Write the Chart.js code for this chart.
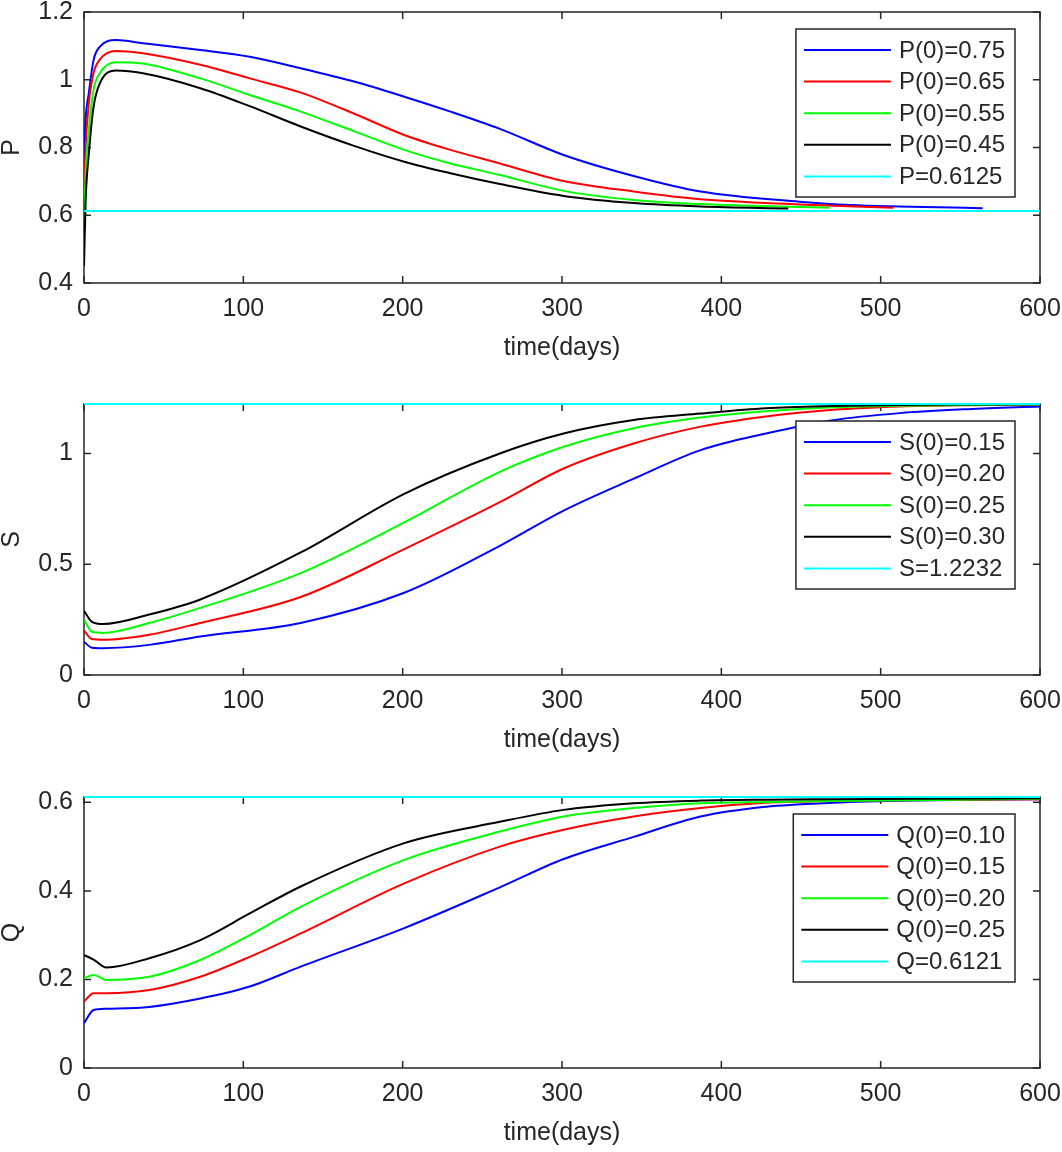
<!DOCTYPE html>
<html><head><meta charset="utf-8">
<script src="https://cdn.jsdelivr.net/npm/chart.js@4/dist/chart.umd.min.js"></script>
<style>
html,body{margin:0;padding:0;background:#fff;width:1062px;height:1152px;overflow:hidden;position:relative}
canvas{position:absolute;left:0}
</style></head><body>
<canvas id="cP" width="1075" height="375" style="top:-12px;width:1075px;height:375px"></canvas>
<canvas id="cS" width="1075" height="375" style="top:380px;width:1075px;height:375px"></canvas>
<canvas id="cQ" width="1075" height="375" style="top:773px;width:1075px;height:375px"></canvas>
<script>
// ---------- data ----------
const seriesColors = ['#0000ff', '#ff0000', '#00ff00', '#000000', '#00ffff'];
const xTitle = 'time(days)';

// Panel P
const pLabels = ['P(0)=0.75', 'P(0)=0.65', 'P(0)=0.55', 'P(0)=0.45', 'P=0.6125'];
const pTime75 = [0, 1, 3, 6, 10, 20, 37, 73, 104, 136, 170, 201, 230, 261, 301, 345, 387, 449, 481, 564];
const p75 = [0.75, 0.88, 0.96, 1.058, 1.098, 1.117, 1.108, 1.088, 1.068, 1.034, 0.994, 0.950, 0.906, 0.855, 0.778, 0.716, 0.670, 0.640, 0.630, 0.621];
const pTime65 = [0, 1, 3, 6, 10, 20, 37, 73, 104, 136, 170, 201, 230, 261, 301, 345, 387, 449, 508];
const p65 = [0.65, 0.80, 0.93, 1.02, 1.06, 1.085, 1.078, 1.044, 1.004, 0.962, 0.899, 0.837, 0.793, 0.753, 0.701, 0.670, 0.647, 0.632, 0.622];
const pTime55 = [0, 1, 3, 6, 10, 20, 37, 73, 104, 136, 170, 201, 230, 261, 301, 345, 387, 468];
const p55 = [0.55, 0.72, 0.85, 0.97, 1.02, 1.052, 1.048, 1.004, 0.955, 0.906, 0.847, 0.793, 0.753, 0.719, 0.672, 0.645, 0.633, 0.622];
const pTime45 = [0, 1, 3, 6, 10, 20, 37, 73, 104, 136, 170, 201, 230, 261, 301, 345, 387, 442];
const p45 = [0.45, 0.64, 0.78, 0.92, 0.99, 1.027, 1.019, 0.975, 0.922, 0.862, 0.804, 0.758, 0.724, 0.692, 0.657, 0.636, 0.626, 0.620];
const pEqTime = [0, 600];
const pEq = [0.6125, 0.6125];

// Panel S
const sLabels = ['S(0)=0.15', 'S(0)=0.20', 'S(0)=0.25', 'S(0)=0.30', 'S=1.2232'];
const sTime = [0, 5, 12, 41, 73, 136, 201, 261, 301, 345, 387, 428, 470, 512, 555, 600];
const s15 = [0.15, 0.123, 0.121, 0.136, 0.174, 0.235, 0.371, 0.583, 0.742, 0.886, 1.015, 1.09, 1.15, 1.182, 1.200, 1.212];
const s20 = [0.20, 0.162, 0.159, 0.182, 0.235, 0.352, 0.568, 0.78, 0.932, 1.045, 1.121, 1.167, 1.197, 1.212, 1.218, 1.221];
const s25 = [0.25, 0.195, 0.19, 0.235, 0.303, 0.460, 0.689, 0.917, 1.03, 1.114, 1.162, 1.19, 1.208, 1.215, 1.219, 1.221];
const s30 = [0.29, 0.24, 0.23, 0.273, 0.341, 0.553, 0.818, 1.0, 1.09, 1.151, 1.18, 1.204, 1.214, 1.219, 1.221, 1.222];
const sEqTime = [0, 600];
const sEq = [1.2232, 1.2232];

// Panel Q
const qLabels = ['Q(0)=0.10', 'Q(0)=0.15', 'Q(0)=0.20', 'Q(0)=0.25', 'Q=0.6121'];
const qTime = [0, 6, 14, 41, 73, 104, 136, 201, 261, 301, 345, 387, 428, 470, 520, 600];
const q10 = [0.101, 0.131, 0.134, 0.138, 0.157, 0.184, 0.229, 0.316, 0.408, 0.472, 0.522, 0.568, 0.59, 0.599, 0.604, 0.607];
const q15 = [0.15, 0.169, 0.169, 0.176, 0.206, 0.251, 0.304, 0.417, 0.50, 0.538, 0.568, 0.587, 0.599, 0.603, 0.605, 0.607];
const q20 = [0.203, 0.21, 0.199, 0.206, 0.244, 0.30, 0.364, 0.47, 0.534, 0.568, 0.587, 0.598, 0.601, 0.603, 0.605, 0.608];
const q25 = [0.255, 0.245, 0.227, 0.248, 0.289, 0.349, 0.41, 0.508, 0.556, 0.583, 0.598, 0.604, 0.606, 0.607, 0.608, 0.609];
const qEqTime = [0, 600];
const qEq = [0.6121, 0.6121];

// ---------- rendering ----------
const FONT = '"Liberation Sans", Arial, Helvetica, sans-serif';
const TXT = '#262626';
Chart.defaults.font.family = FONT;
Chart.defaults.color = TXT;

const framePlugin = {
  id: 'frame',
  beforeDatasetsDraw(chart) {
    const {ctx, chartArea: a, scales: {x, y}} = chart;
    ctx.save();
    ctx.strokeStyle = TXT;
    ctx.lineWidth = 1.5;
    ctx.beginPath();
    x.ticks.forEach(t => {
      const px = x.getPixelForValue(t.value);
      ctx.moveTo(px, a.bottom); ctx.lineTo(px, a.bottom - 7);
      ctx.moveTo(px, a.top); ctx.lineTo(px, a.top + 7);
    });
    y.ticks.forEach(t => {
      const py = y.getPixelForValue(t.value);
      ctx.moveTo(a.left, py); ctx.lineTo(a.left + 7, py);
      ctx.moveTo(a.right, py); ctx.lineTo(a.right - 7, py);
    });
    ctx.stroke();
    ctx.strokeRect(a.left, a.top, a.right - a.left, a.bottom - a.top);
    ctx.restore();
  }
};

const legendPlugin = {
  id: 'boxLegend',
  afterDraw(chart) {
    const {ctx, chartArea: a} = chart;
    const ds = chart.data.datasets;
    ctx.save();
    ctx.font = '24px ' + FONT;
    const tw = Math.max(...ds.map(d => ctx.measureText(d.label).width));
    const w = 8 + 87 + 8 + tw + 10;
    const h = 168;
    const right = a.right - 25;
    const left = right - w;
    const top = a.top + 17;
    ctx.fillStyle = '#fff';
    ctx.fillRect(left, top, w, h);
    ctx.strokeStyle = TXT;
    ctx.lineWidth = 1.5;
    ctx.strokeRect(left, top, w, h);
    ds.forEach((d, i) => {
      const cy = top + 21 + i * 31.6;
      ctx.strokeStyle = d.borderColor;
      ctx.lineWidth = 2;
      ctx.beginPath();
      ctx.moveTo(left + 8, cy);
      ctx.lineTo(left + 95, cy);
      ctx.stroke();
      ctx.fillStyle = TXT;
      ctx.textBaseline = 'middle';
      ctx.textAlign = 'left';
      ctx.fillText(d.label, left + 103, cy + 1);
    });
    ctx.restore();
  }
};

function pts(t, v) { return t.map((tt, i) => ({x: tt, y: v[i]})); }

function makeChart(id, labels, series, yMin, yMax, yStep, yTitle) {
  const datasets = series.map((s, i) => ({
    label: labels[i],
    data: pts(s[0], s[1]),
    borderColor: seriesColors[i],
    backgroundColor: seriesColors[i],
    borderWidth: 2,
    pointRadius: 0,
    fill: false,
    cubicInterpolationMode: 'monotone',
    clip: i === 4 ? false : undefined,
    order: 4 - i
  }));
  return new Chart(document.getElementById(id), {
    type: 'line',
    data: {datasets},
    options: {
      responsive: false,
      animation: false,
      events: [],
      layout: {padding: {top: 24, right: 35, bottom: 0, left: 0}},
      plugins: {legend: {display: false}, tooltip: {enabled: false}},
      scales: {
        x: {
          type: 'linear', min: 0, max: 600,
          grid: {display: false, drawTicks: false},
          border: {display: false},
          ticks: {stepSize: 100, padding: 14, color: TXT, font: {size: 25, lineHeight: 1}, maxRotation: 0},
          title: {display: true, text: xTitle, color: TXT, font: {size: 25, lineHeight: 1}, padding: {top: 0, bottom: 2}},
          afterFit(s) { s.height = 80; }
        },
        y: {
          type: 'linear', min: yMin, max: yMax,
          grid: {display: false, drawTicks: false},
          border: {display: false},
          ticks: {stepSize: yStep, includeBounds: false, padding: 11, color: TXT, font: {size: 25, lineHeight: 1},
            callback: v => String(Math.round(v * 1000) / 1000)},
          title: {display: true, text: yTitle, color: TXT, font: {size: 25, lineHeight: 1}, padding: 0},
          afterFit(s) { s.width = 84; }
        }
      }
    },
    plugins: [framePlugin, legendPlugin]
  });
}

makeChart('cP', pLabels, [[pTime75, p75], [pTime65, p65], [pTime55, p55], [pTime45, p45], [pEqTime, pEq]], 0.4, 1.2, 0.2, 'P');
makeChart('cS', sLabels, [[sTime, s15], [sTime, s20], [sTime, s25], [sTime, s30], [sEqTime, sEq]], 0, 1.2232, 0.5, 'S');
makeChart('cQ', qLabels, [[qTime, q10], [qTime, q15], [qTime, q20], [qTime, q25], [qEqTime, qEq]], 0, 0.6121, 0.2, 'Q');
</script>
</body></html>
